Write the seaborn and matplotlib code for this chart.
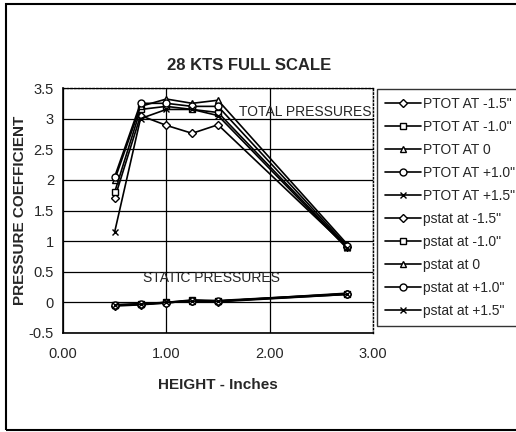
import numpy as np
import pandas as pd
import seaborn as sns
import matplotlib.pyplot as plt
from matplotlib.patches import Rectangle
from matplotlib.ticker import FuncFormatter

# hauteurs de mesure (pouces)
heights = [0.5, 0.75, 1.0, 1.25, 1.5, 2.75]

# pressions totales
ptot_m15 = [1.70, 3.05, 2.89, 2.76, 2.90, 0.90]
ptot_m10 = [1.80, 3.15, 3.20, 3.15, 3.10, 0.90]
ptot_0 = [2.00, 3.20, 3.32, 3.25, 3.30, 0.95]
ptot_p10 = [2.05, 3.25, 3.25, 3.20, 3.20, 0.92]
ptot_p15 = [1.15, 3.00, 3.15, 3.15, 3.05, 0.88]

# pressions statiques
pstat_m15 = [-0.06, -0.04, -0.01, 0.03, 0.01, 0.13]
pstat_m10 = [-0.05, -0.03, 0.00, 0.04, 0.03, 0.14]
pstat_0 = [-0.04, -0.02, 0.00, 0.03, 0.02, 0.15]
pstat_p10 = [-0.05, -0.03, -0.01, 0.03, 0.02, 0.14]
pstat_p15 = [-0.04, -0.03, 0.00, 0.02, 0.02, 0.13]

labels = ['PTOT AT -1.5"', 'PTOT AT -1.0"', 'PTOT AT 0', 'PTOT AT +1.0"', 'PTOT AT +1.5"',
          'pstat at -1.5"', 'pstat at -1.0"', 'pstat at 0', 'pstat at +1.0"', 'pstat at +1.5"']
series = [ptot_m15, ptot_m10, ptot_0, ptot_p10, ptot_p15,
          pstat_m15, pstat_m10, pstat_0, pstat_p10, pstat_p15]
markers = ['D', 's', '^', 'o', 'x'] * 2

sns.set_style('white')
plt.rcParams['font.family'] = ['Liberation Sans', 'DejaVu Sans']

fig = plt.figure(figsize=(5.16, 4.32), dpi=100)
ax = fig.add_axes([63 / 516, 1 - 333 / 432, 310 / 516, 245 / 432])

for lab, vals, m in zip(labels, series, markers):
    df = pd.DataFrame({'h': heights, 'cp': vals})
    sns.lineplot(data=df, x='h', y='cp', ax=ax, color='black', lw=1.2,
                 marker=m, ms=5 if m != 'D' else 4, mfc='white', mec='black',
                 mew=1.0, label=lab)

ax.set_xlim(0, 3)
ax.set_ylim(-0.5, 3.5)
ax.set_xticks([0, 1, 2, 3])
ax.set_yticks(np.arange(-0.5, 3.51, 0.5))
ax.xaxis.set_major_formatter(FuncFormatter(lambda v, p: f'{v:.2f}'))
ax.yaxis.set_major_formatter(FuncFormatter(lambda v, p: f'{v:g}'))
ax.tick_params(axis='both', direction='inout', length=6, width=1, labelsize=10.5, color='black')
ax.tick_params(axis='x', pad=7)
ax.grid(True, color='black', lw=0.9)
ax.set_axisbelow(True)
for s in ['left', 'bottom']:
    ax.spines[s].set_color('black')
    ax.spines[s].set_linewidth(1.2)
for s in ['top', 'right']:
    ax.spines[s].set_color('black')
    ax.spines[s].set_linestyle(':')
    ax.spines[s].set_linewidth(1.0)

ax.set_xlabel('HEIGHT - Inches', fontsize=11, fontweight='bold', labelpad=12)
ax.set_ylabel('PRESSURE COEFFICIENT', fontsize=11, fontweight='bold', labelpad=1)
fig.text(249 / 516, 1 - 65 / 432, '28 KTS FULL SCALE', ha='center', va='center',
         fontsize=12, fontweight='bold')

ax.text(2.99, 3.1, 'TOTAL PRESSURES', ha='right', va='center', fontsize=10)
ax.text(0.77, 0.4, 'STATIC PRESSURES', ha='left', va='center', fontsize=10)

leg = ax.legend(loc='upper left', bbox_to_anchor=(377 / 516, 1 - 89 / 432),
                bbox_transform=fig.transFigure, frameon=True, fancybox=False,
                fontsize=10, handlelength=2.6, labelspacing=0.65, borderpad=0.55,
                handletextpad=0.15, borderaxespad=0)
leg.get_frame().set_edgecolor('black')
leg.get_frame().set_linewidth(1.0)

fig.patches.append(Rectangle((6 / 516, 1 - 430 / 432), 520 / 516, 426 / 432,
                             transform=fig.transFigure, fill=False,
                             edgecolor='black', lw=1.5))

fig.savefig('out.png', dpi=100)
